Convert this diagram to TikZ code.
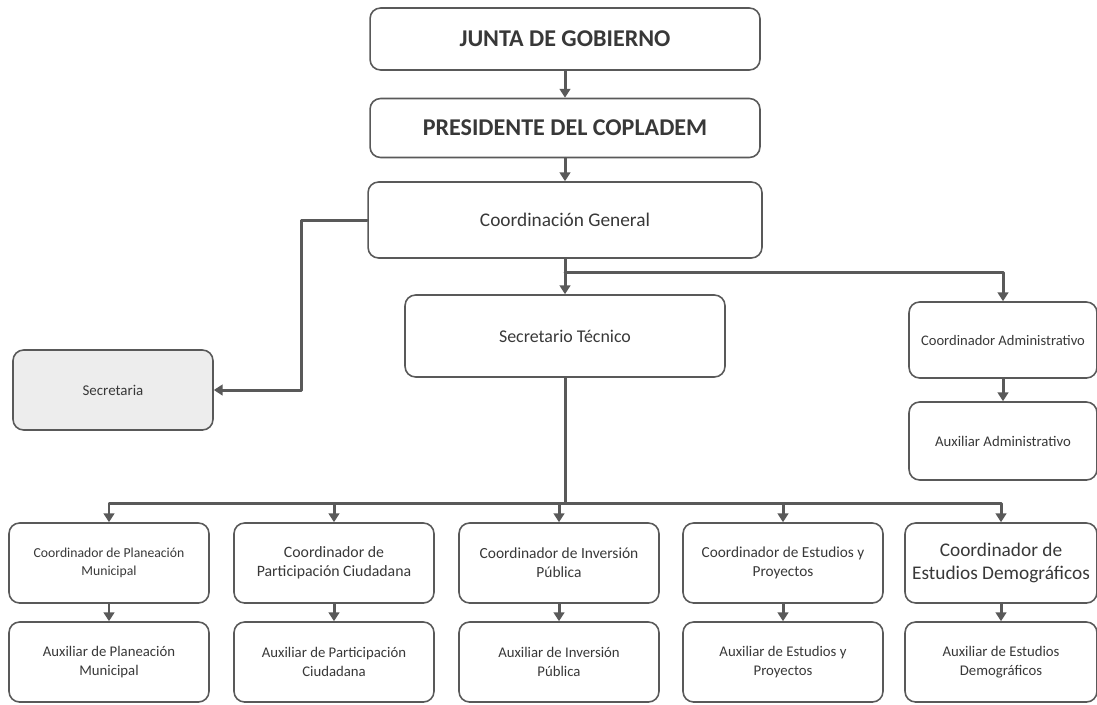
\documentclass[tikz,border=0pt]{standalone}
\usepackage{fontspec}
\setmainfont{Carlito}
\usepackage{tikz}
\usetikzlibrary{arrows.meta}
\definecolor{linegray}{rgb}{0.35,0.35,0.35}
\definecolor{textgray}{rgb}{0.22,0.22,0.22}

\begin{document}
\begin{tikzpicture}[line cap=round,line join=round,>={Triangle[length=5pt,width=6pt]},x=0.02cm,y=-0.02cm,
	box/.style={draw=linegray,line width=0.9pt,rounded corners=6pt,align=center,text=textgray,
	  inner sep=2pt,font=\fontsize{8.4}{10.5}\selectfont},
	title/.style={box,minimum width=7.8cm,font=\fontsize{13.7}{15}\selectfont\bfseries},
	unit/.style={box,minimum width=4cm,minimum height=1.6cm},
	link/.style={draw=linegray,line width=1.7pt,->},
	bar/.style={draw=linegray,line width=1.7pt}]
	\useasboundingbox (0,0) rectangle (1097,704);
	% upper part
	\node[title,minimum height=1.24cm] (junta) at (565,39) {JUNTA DE GOBIERNO};
	\node[title,minimum height=1.18cm] (pres) at (565,128) {PRESIDENTE DEL COPLADEM};
	\node[box,minimum width=7.88cm,minimum height=1.52cm,font=\fontsize{11}{13}\selectfont] (cgen) at (565,220) {Coordinación General};
	\node[box,minimum width=6.4cm,minimum height=1.64cm,font=\fontsize{10.2}{12}\selectfont] (stec) at (565,336) {Secretario Técnico};
	\node[box,fill=gray!14,minimum width=4cm,minimum height=1.6cm,font=\fontsize{8.5}{10}\selectfont] (secr) at (113,390) {Secretaria};
	\node[box,minimum width=3.76cm,minimum height=1.52cm,font=\fontsize{8.3}{10}\selectfont] (cadm) at (1003,340) {Coordinador Administrativo};
	\node[box,minimum width=3.76cm,minimum height=1.56cm] (aadm) at (1003,441) {Auxiliar Administrativo};
	% lower row
	\node[unit,font=\fontsize{7.8}{10}\selectfont] (cpla) at (109,563) {Coordinador de Planeación\\Municipal};
	\node[unit,font=\fontsize{9}{11}\selectfont] (cpar) at (334,563) {Coordinador de\\Participación Ciudadana};
	\node[unit,font=\fontsize{8.8}{11}\selectfont] (cinv) at (559,563) {Coordinador de Inversión\\Pública};
	\node[unit,font=\fontsize{8.7}{11}\selectfont] (cest) at (783,563) {Coordinador de Estudios y\\Proyectos};
	\node[unit,minimum width=3.84cm,font=\fontsize{11}{13.5}\selectfont] (cdem) at (1001,563) {Coordinador de\\Estudios Demográficos};
	\node[unit] (apla) at (109,662) {Auxiliar de Planeación\\Municipal};
	\node[unit] (apar) at (334,662) {Auxiliar de Participación\\Ciudadana};
	\node[unit] (ainv) at (559,662) {Auxiliar de Inversión\\Pública};
	\node[unit] (aest) at (783,662) {Auxiliar de Estudios y\\Proyectos};
	\node[unit,minimum width=3.84cm] (adem) at (1001,662) {Auxiliar de Estudios\\Demográficos};
	% connectors
	\coordinate (split) at (565,272);
	\coordinate (bus) at (565,503);
	\draw[link] (junta) -- (pres);
	\draw[link] (pres) -- (cgen);
	\draw[link] (cgen) -- (stec);
	\draw[link] (cgen.west) -- ++(-66,0) |- (secr.east);
	\draw[link] (split) -| (cadm);
	\draw[link] (cadm) -- (aadm);
	\draw[bar] (stec) -- (bus);
	\foreach \c/\a in {cpla/apla,cpar/apar,cinv/ainv,cest/aest,cdem/adem}{
	  \draw[link] (bus) -| (\c);
	  \draw[link] (\c) -- (\a);
	}
\end{tikzpicture}
\end{document}
